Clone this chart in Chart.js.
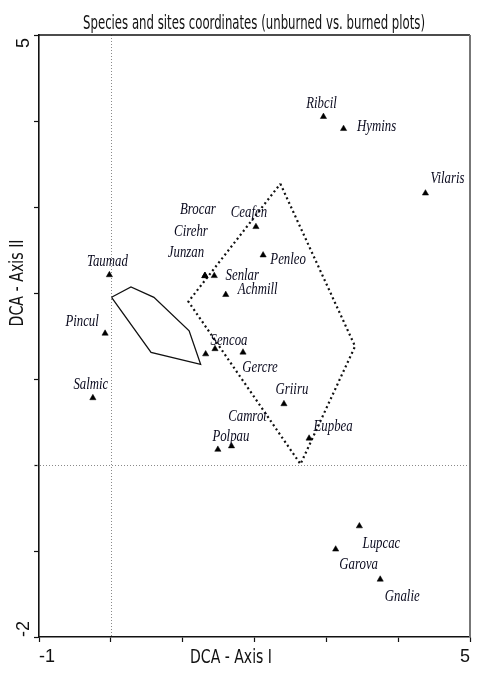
<!DOCTYPE html>
<html>
<head>
<meta charset="utf-8">
<script src="https://cdn.jsdelivr.net/npm/chart.js@4.4.1/dist/chart.umd.min.js"></script>
<style>
  html, body { margin: 0; padding: 0; background: #fff; }
  #wrap { width: 492px; height: 686px; }
</style>
</head>
<body>
<div id="wrap"><canvas id="dca" width="492" height="686"></canvas></div>
<script>
// Species scores on DCA axes
const speciesNames = ['Ribcil', 'Hymins', 'Vilaris', 'Ceafen', 'Penleo', 'Brocar', 'Cirehr', 'Junzan',
    'Senlar', 'Achmill', 'Taumad', 'Pincul', 'Salmic', 'Sencoa', '', 'Gercre', 'Griiru', 'Camrot',
    'Polpau', 'Eupbea', 'Lupcac', 'Garova', 'Gnalie'];
const axis1 = [2.96, 3.24, 4.38, 2.02, 2.12, 1.31, 1.31, 1.31,
    1.44, 1.60, -0.02, -0.08, -0.25, 1.45, 1.32, 1.84, 2.41, 1.68,
    1.49, 2.76, 3.46, 3.13, 3.75];
const axis2 = [4.05, 3.91, 3.16, 2.77, 2.44, 2.20, 2.20, 2.20,
    2.20, 1.98, 2.21, 1.53, 0.78, 1.35, 1.29, 1.31, 0.71, 0.22,
    0.18, 0.31, -0.71, -0.98, -1.33];

// Site envelopes
const unburnedX = [0.01, 0.28, 0.60, 1.09, 1.25, 0.56];
const unburnedY = [1.95, 2.07, 1.95, 1.56, 1.17, 1.31];
const burnedX = [2.36, 3.40, 2.64, 1.08];
const burnedY = [3.27, 1.38, 0.01, 1.90];

// Axes
const xRange = [-1, 5];
const yRange = [-2, 5];
const xTickLabels = [-1, 5];
const yTickLabels = [5, -2];

// Label placement (pixels from the marker)
const labelOffsets = {
    Ribcil: [-2, -13], Hymins: [33, -2], Vilaris: [22, -14], Ceafen: [-7, -14], Penleo: [25, 5],
    Brocar: [-7, -66], Cirehr: [-14, -44], Junzan: [-19, -23], Senlar: [28, 0], Achmill: [32, -5],
    Taumad: [-2, -13], Pincul: [-23, -12], Salmic: [-2, -13], Sencoa: [14, -8], Gercre: [17, 15],
    Griiru: [8, -14], Camrot: [16, -29], Polpau: [13, -13], Eupbea: [24, -12], Lupcac: [22, 18],
    Garova: [23, 16], Gnalie: [22, 17]
};

const NARROW = '"Liberation Sans Narrow", "DejaVu Sans Condensed", "Liberation Sans", sans-serif';

const closeRing = (xs, ys) => {
    const pts = xs.map((x, i) => ({ x, y: ys[i] }));
    pts.push(pts[0]);
    return pts;
};

// squeeze text horizontally so it spans the given width
const fitText = (ctx, text, cx, cy, width, rot) => {
    const w = ctx.measureText(text).width;
    ctx.save();
    ctx.translate(cx, cy);
    if (rot) ctx.rotate(rot);
    ctx.scale(Math.min(1, width / w), 1);
    ctx.fillText(text, 0, 0);
    ctx.restore();
};

// Draw the extra bits: zero lines, frame, labels and titles
const overlay = {
    id: 'overlay',
    beforeDatasetsDraw(chart) {
        const { ctx, chartArea: a, scales: { x, y } } = chart;
        ctx.save();
        ctx.strokeStyle = '#8a8a8a';
        ctx.lineWidth = 1;
        ctx.setLineDash([1, 2]);
        const x0 = Math.round(x.getPixelForValue(0)) + 0.5;
        const y0 = Math.round(y.getPixelForValue(0)) + 0.5;
        ctx.beginPath();
        ctx.moveTo(x0, a.top);
        ctx.lineTo(x0, a.bottom);
        ctx.moveTo(a.left - 5, y0);
        ctx.lineTo(a.right, y0);
        ctx.stroke();
        ctx.restore();
    },
    afterDraw(chart) {
        const { ctx, chartArea: a, scales: { x, y } } = chart;
        ctx.save();

        // top and right frame
        ctx.strokeStyle = '#111';
        ctx.lineWidth = 1.6;
        ctx.beginPath();
        ctx.moveTo(a.left, a.top);
        ctx.lineTo(a.right, a.top);
        ctx.stroke();
        ctx.strokeStyle = '#777';
        ctx.lineWidth = 2;
        ctx.beginPath();
        ctx.moveTo(a.right, a.top);
        ctx.lineTo(a.right, a.bottom);
        ctx.stroke();

        // species labels
        ctx.fillStyle = '#0a0a1e';
        ctx.font = 'italic 16px "Liberation Serif", "DejaVu Serif", serif';
        ctx.textAlign = 'center';
        ctx.textBaseline = 'middle';
        speciesNames.forEach((name, i) => {
            if (!name) return;
            const off = labelOffsets[name] || [0, -12];
            const px = x.getPixelForValue(axis1[i]) + off[0];
            const py = y.getPixelForValue(axis2[i]) + off[1];
            ctx.save();
            ctx.translate(px, py);
            ctx.scale(0.8, 1);
            ctx.fillText(name, 0, 0);
            ctx.restore();
        });

        // title
        ctx.fillStyle = '#111';
        ctx.font = '19px ' + NARROW;
        fitText(ctx, 'Species and sites coordinates (unburned vs. burned plots)', 254, 24, 342);

        // axis titles
        ctx.font = '20px ' + NARROW;
        fitText(ctx, 'DCA - Axis I', 231, 658, 82);
        fitText(ctx, 'DCA - Axis II', 18, 283, 87, -Math.PI / 2);

        // rotated y tick labels at the axis ends
        ctx.font = '18px "Liberation Sans", Arial, sans-serif';
        yTickLabels.forEach(v => {
            const py = y.getPixelForValue(v);
            ctx.save();
            ctx.translate(24, py);
            ctx.rotate(-Math.PI / 2);
            ctx.textAlign = v === yRange[1] ? 'right' : 'left';
            ctx.fillText(String(v), v === yRange[1] ? -3 : 0, 0);
            ctx.restore();
        });

        ctx.restore();
    }
};

new Chart(document.getElementById('dca'), {
    type: 'scatter',
    data: {
        datasets: [
            {
                label: 'species',
                data: speciesNames.map((n, i) => ({ x: axis1[i], y: axis2[i] })),
                pointStyle: 'triangle',
                pointRadius: 3.6,
                pointBackgroundColor: '#000',
                pointBorderColor: '#000',
                pointBorderWidth: 0.5
            },
            {
                label: 'unburned',
                data: closeRing(unburnedX, unburnedY),
                showLine: true,
                borderColor: '#111',
                borderWidth: 1.3,
                pointRadius: 0,
                tension: 0
            },
            {
                label: 'burned',
                data: closeRing(burnedX, burnedY),
                showLine: true,
                borderColor: '#111',
                borderWidth: 2.2,
                borderDash: [2, 3],
                pointRadius: 0,
                tension: 0
            }
        ]
    },
    options: {
        responsive: false,
        animation: false,
        events: [],
        layout: { padding: { left: 0, top: 35, right: 22, bottom: 0 } },
        plugins: {
            legend: { display: false },
            tooltip: { enabled: false },
            title: { display: false }
        },
        scales: {
            x: {
                type: 'linear',
                min: xRange[0],
                max: xRange[1],
                afterFit: s => { s.height = 49; },
                border: { display: true, color: '#111', width: 1.6 },
                grid: { drawOnChartArea: false, drawTicks: true, tickLength: 5, color: '#111', tickWidth: 1.2 },
                ticks: {
                    stepSize: 1,
                    align: 'inner',
                    maxRotation: 0,
                    padding: 4,
                    color: '#111',
                    font: { family: '"Liberation Sans", Arial, sans-serif', size: 18 },
                    callback: v => xTickLabels.includes(v) ? String(v) : ''
                }
            },
            y: {
                type: 'linear',
                min: yRange[0],
                max: yRange[1],
                afterFit: s => { s.width = 39; },
                border: { display: true, color: '#111', width: 1.6 },
                grid: { drawOnChartArea: false, drawTicks: true, tickLength: 5, color: '#111', tickWidth: 1.2 },
                ticks: {
                    stepSize: 1,
                    callback: () => ''
                }
            }
        }
    },
    plugins: [overlay]
});
</script>
</body>
</html>
